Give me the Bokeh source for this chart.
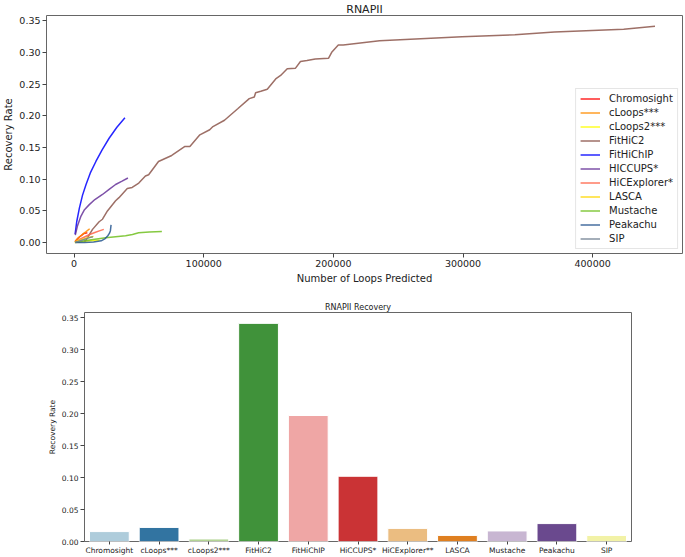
import colorsys
from bokeh.plotting import figure
from bokeh.layouts import column
from bokeh.models import FixedTicker, NumeralTickFormatter, BasicTickFormatter, Range1d, FactorRange, ColumnDataSource
from bokeh.embed import file_html
from bokeh.resources import INLINE

FONT = "DejaVu Sans"

# ---------------- data: recovery curves ----------------
methods = ["Chromosight", "cLoops***", "cLoops2***", "FitHiC2", "FitHiChIP", "HICCUPS*",
           "HiCExplorer*", "LASCA", "Mustache", "Peakachu", "SIP"]
line_colors = ["red", "darkorange", "yellow", "#8c564b", "blue", "rebeccapurple",
               "tomato", "gold", "#70c020", "#26568f", "slategray"]

chromosight_x = [800, 2500, 4300, 6000, 7600, 10200]
chromosight_y = [0.002, 0.006, 0.0094, 0.012, 0.0146, 0.0156]
cloops_x = [600, 2000, 4000, 6500, 9000, 12000]
cloops_y = [0.001, 0.005, 0.009, 0.013, 0.017, 0.022]
cloops2_x = [500, 4000, 8000, 12000, 16000, 19600]
cloops2_y = [0.0005, 0.001, 0.002, 0.003, 0.0035, 0.004]
fithic2_x = [7900, 9200, 14200, 19300, 21900, 25700, 32000, 34600, 41000, 44800, 49900, 55000,
             57500, 65100, 75300, 85500, 89300, 97000, 104600, 107100, 116000, 126200, 135100,
             139000, 140000, 144000, 149000, 155500, 159300, 164400, 170800, 174600, 179600,
             186000, 196200, 198700, 203800, 207600, 235600, 299200, 340000, 370500, 423900, 448100]
fithic2_y = [0.002, 0.004, 0.021, 0.033, 0.037, 0.05, 0.066, 0.071, 0.0855, 0.087, 0.094, 0.105,
             0.107, 0.128, 0.1375, 0.1516, 0.1516, 0.170, 0.178, 0.183, 0.193, 0.211, 0.227,
             0.2297, 0.2364, 0.2386, 0.2417, 0.258, 0.2635, 0.274, 0.275, 0.2855, 0.287,
             0.2896, 0.2906, 0.300, 0.3115, 0.3115, 0.3183, 0.3245, 0.3276, 0.332, 0.3365, 0.341]
fithichip_x = [760, 2000, 4100, 6500, 9200, 12500, 16800, 21500, 27000, 33000, 39200]
fithichip_y = [0.0136, 0.033, 0.055, 0.075, 0.0917, 0.11, 0.128, 0.146, 0.1646, 0.182, 0.197]
hiccups_x = [900, 2500, 5300, 8000, 11700, 16000, 21900, 27000, 32000, 37000, 41500]
hiccups_y = [0.012, 0.026, 0.042, 0.052, 0.060, 0.068, 0.076, 0.084, 0.0917, 0.097, 0.102]
hicexplorer_x = [1200, 4000, 8000, 12000, 16000, 20000, 22900]
hicexplorer_y = [0.0015, 0.005, 0.009, 0.013, 0.016, 0.019, 0.021]
lasca_x = [700, 3000, 6000, 9000, 12000, 15000]
lasca_y = [0.001, 0.003, 0.005, 0.007, 0.0085, 0.010]
mustache_x = [1000, 8000, 16000, 24400, 32000, 39700, 45000, 49800, 58000, 67700]
mustache_y = [0.0005, 0.003, 0.0055, 0.0078, 0.0095, 0.0109, 0.013, 0.0156, 0.017, 0.0177]
peakachu_x = [800, 8000, 15000, 20900, 24000, 26000, 27300, 28000, 28500]
peakachu_y = [0.0002, 0.0005, 0.0012, 0.003, 0.0065, 0.011, 0.015, 0.019, 0.028]
sip_x = [600, 3000, 6000, 9000, 12000, 14500]
sip_y = [0.0005, 0.002, 0.004, 0.006, 0.008, 0.0095]

curves = [(chromosight_x, chromosight_y), (cloops_x, cloops_y), (cloops2_x, cloops2_y),
          (fithic2_x, fithic2_y), (fithichip_x, fithichip_y), (hiccups_x, hiccups_y),
          (hicexplorer_x, hicexplorer_y), (lasca_x, lasca_y), (mustache_x, mustache_y),
          (peakachu_x, peakachu_y), (sip_x, sip_y)]

x_ticks = [0, 100000, 200000, 300000, 400000]
y_ticks = [0.0, 0.05, 0.10, 0.15, 0.20, 0.25, 0.30, 0.35]

# ---------------- data: recovery bars ----------------
bar_methods = ["Chromosight", "cLoops***", "cLoops2***", "FitHiC2", "FitHiChIP", "HiCCUPS*",
               "HiCExplorer**", "LASCA", "Mustache", "Peakachu", "SIP"]
bar_values = [0.0155, 0.022, 0.004, 0.341, 0.197, 0.102, 0.0205, 0.0095, 0.0165, 0.028, 0.0095]
paired = ["#a6cee3", "#1f78b4", "#b2df8a", "#33a02c", "#fb9a99", "#e31a1c",
          "#fdbf6f", "#ff7f00", "#cab2d6", "#6a3d9a", "#ffff99"]


def desat(hexc, f=0.75):
    r, g, b = (int(hexc[i:i + 2], 16) / 255 for i in (1, 3, 5))
    h, l, s = colorsys.rgb_to_hls(r, g, b)
    r, g, b = colorsys.hls_to_rgb(h, l, s * f)
    return "#%02x%02x%02x" % (round(r * 255), round(g * 255), round(b * 255))


bar_colors = [desat(c) for c in paired]


def style(p, tick_size, label_size):
    p.grid.visible = False
    p.outline_line_color = "#666666"
    p.outline_line_width = 1
    p.frame_align = False
    for ax in (p.xaxis[0], p.yaxis[0]):
        ax.axis_line_color = None
        ax.major_tick_line_color = "#444444"
        ax.major_tick_out = 4
        ax.major_tick_in = 0
        ax.minor_tick_line_color = None
        ax.major_label_text_font = FONT
        ax.major_label_text_font_size = tick_size
        ax.major_label_text_color = "#222222"
        ax.axis_label_text_font = FONT
        ax.axis_label_text_font_size = label_size
        ax.axis_label_text_font_style = "normal"
        ax.axis_label_text_color = "#222222"
        ax.major_label_standoff = 2
        ax.axis_label_standoff = 2
    p.title.text_font = FONT
    p.title.text_font_style = "normal"
    p.title.align = "center"
    p.title.text_color = "#222222"


# ---------------- top figure ----------------
p1 = figure(width=685, height=290, output_backend="svg", toolbar_location=None,
            title="RNAPII",
            x_range=Range1d(-21300, 469300), y_range=Range1d(-0.017, 0.358),
            x_axis_label="Number of Loops Predicted", y_axis_label="Recovery Rate",
            min_border_left=40, min_border_right=3, min_border_top=0, min_border_bottom=37)
style(p1, "9.5px", "10px")
p1.title.text_font_size = "11px"
p1.title.standoff = 0
p1.xaxis.ticker = FixedTicker(ticks=x_ticks)
p1.xaxis.formatter = BasicTickFormatter(use_scientific=False)
p1.yaxis.ticker = FixedTicker(ticks=y_ticks)
p1.yaxis.formatter = NumeralTickFormatter(format="0.00")
p1.xaxis.axis_label_standoff = 3

for name, col, (xs, ys) in zip(methods, line_colors, curves):
    p1.line(xs, ys, line_color=col, line_width=1.5, line_alpha=0.85, legend_label=name)

lg = p1.legend[0]
lg.location = "bottom_right"
lg.label_text_font = FONT
lg.label_text_font_size = "10px"
lg.label_text_color = "#222222"
lg.label_height = 11
lg.glyph_height = 11
lg.glyph_width = 20
lg.label_standoff = 9
lg.spacing = 3
lg.padding = 4
lg.margin = 4
lg.border_line_color = "#cccccc"
lg.border_line_width = 1
lg.background_fill_alpha = 0.9

# ---------------- bottom figure ----------------
src = ColumnDataSource(dict(m=bar_methods, v=bar_values, c=bar_colors))
p2 = figure(width=685, height=267, output_backend="svg", toolbar_location=None,
            title="RNAPII Recovery",
            x_range=FactorRange(*bar_methods), y_range=Range1d(0, 0.358),
            y_axis_label="Recovery Rate",
            min_border_left=84, min_border_right=54, min_border_top=22, min_border_bottom=13)
style(p2, "7.5px", "7.5px")
p2.title.text_font_size = "8px"
p2.title.standoff = 2
p2.xaxis.major_label_text_font_size = "7.5px"
p2.xaxis.major_tick_out = 3
p2.xaxis.major_label_standoff = 1
p2.yaxis.ticker = FixedTicker(ticks=y_ticks)
p2.yaxis.formatter = NumeralTickFormatter(format="0.00")
p2.vbar(x="m", top="v", width=0.8, source=src, fill_color="c", line_color="white", line_width=1)

layout = column(p1, p2, spacing=0)
open("out.html", "w").write(file_html(layout, INLINE))
